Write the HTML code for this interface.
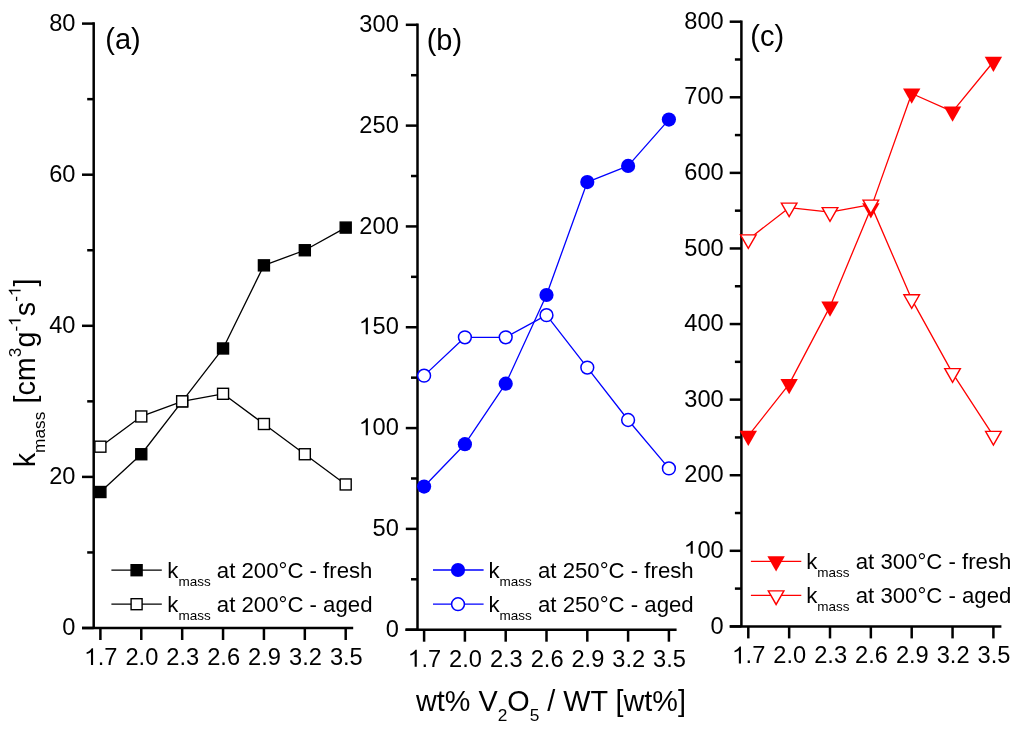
<!DOCTYPE html>
<html><head><meta charset="utf-8"><style>
html,body{margin:0;padding:0;background:#fff;}
svg{display:block;will-change:transform;}
.h1{fill-opacity:0;}
text{font-family:"Liberation Sans", sans-serif;fill:#000;}
</style></head><body>
<svg width="1024" height="732" viewBox="0 0 1024 732">
<rect width="1024" height="732" fill="#fff"></rect>
<line x1="93.7" y1="22.35" x2="93.7" y2="628.0" stroke="#000" stroke-width="2.5"></line>
<line x1="82.0" y1="628.0" x2="353.2" y2="628.0" stroke="#000" stroke-width="2.5"></line>
<line x1="82.00" y1="628.00" x2="93.7" y2="628.00" stroke="#000" stroke-width="2.5"></line>
<text transform="translate(75.50,635.10) scale(0.965,1)" text-anchor="end" font-size="24.5">0</text>
<line x1="87.20" y1="552.45" x2="93.7" y2="552.45" stroke="#000" stroke-width="2.5"></line>
<line x1="82.00" y1="476.90" x2="93.7" y2="476.90" stroke="#000" stroke-width="2.5"></line>
<text transform="translate(75.50,484.00) scale(0.965,1)" text-anchor="end" font-size="24.5">20</text>
<line x1="87.20" y1="401.35" x2="93.7" y2="401.35" stroke="#000" stroke-width="2.5"></line>
<line x1="82.00" y1="325.80" x2="93.7" y2="325.80" stroke="#000" stroke-width="2.5"></line>
<text transform="translate(75.50,332.90) scale(0.965,1)" text-anchor="end" font-size="24.5">40</text>
<line x1="87.20" y1="250.25" x2="93.7" y2="250.25" stroke="#000" stroke-width="2.5"></line>
<line x1="82.00" y1="174.70" x2="93.7" y2="174.70" stroke="#000" stroke-width="2.5"></line>
<text transform="translate(75.50,181.80) scale(0.965,1)" text-anchor="end" font-size="24.5">60</text>
<line x1="87.20" y1="99.15" x2="93.7" y2="99.15" stroke="#000" stroke-width="2.5"></line>
<line x1="82.00" y1="23.60" x2="93.7" y2="23.60" stroke="#000" stroke-width="2.5"></line>
<text transform="translate(75.50,30.70) scale(0.965,1)" text-anchor="end" font-size="24.5">80</text>
<line x1="100.40" y1="628.0" x2="100.40" y2="640.00" stroke="#000" stroke-width="2.5"></line>
<text transform="translate(101.00,665.00) scale(0.965,1)" text-anchor="middle" font-size="24.5"><tspan class="h1">1</tspan>.7</text><path transform="translate(101.00,665.00) scale(0.965,1) translate(-17.03,0.00) scale(24.5,-24.5)" d="M0.360,0 L0.270,0 L0.270,0.535 C0.225,0.497 0.155,0.468 0.085,0.455 L0.085,0.517 C0.17,0.55 0.26,0.61 0.305,0.687 L0.360,0.687 Z"></path>
<line x1="141.28" y1="628.0" x2="141.28" y2="640.00" stroke="#000" stroke-width="2.5"></line>
<text transform="translate(141.88,665.00) scale(0.965,1)" text-anchor="middle" font-size="24.5">2.0</text>
<line x1="182.17" y1="628.0" x2="182.17" y2="640.00" stroke="#000" stroke-width="2.5"></line>
<text transform="translate(182.77,665.00) scale(0.965,1)" text-anchor="middle" font-size="24.5">2.3</text>
<line x1="223.05" y1="628.0" x2="223.05" y2="640.00" stroke="#000" stroke-width="2.5"></line>
<text transform="translate(223.65,665.00) scale(0.965,1)" text-anchor="middle" font-size="24.5">2.6</text>
<line x1="263.93" y1="628.0" x2="263.93" y2="640.00" stroke="#000" stroke-width="2.5"></line>
<text transform="translate(264.53,665.00) scale(0.965,1)" text-anchor="middle" font-size="24.5">2.9</text>
<line x1="304.82" y1="628.0" x2="304.82" y2="640.00" stroke="#000" stroke-width="2.5"></line>
<text transform="translate(305.42,665.00) scale(0.965,1)" text-anchor="middle" font-size="24.5">3.2</text>
<line x1="345.70" y1="628.0" x2="345.70" y2="640.00" stroke="#000" stroke-width="2.5"></line>
<text transform="translate(346.30,665.00) scale(0.965,1)" text-anchor="middle" font-size="24.5">3.5</text>
<polyline points="100.40,492.01 141.28,454.24 182.17,401.35 223.05,348.47 263.93,265.36 304.82,250.25 345.70,227.59" fill="none" stroke="#000000" stroke-width="1.3" stroke-linejoin="round"></polyline>
<polyline points="100.40,446.68 141.28,416.46 182.17,401.35 223.05,393.80 263.93,424.01 304.82,454.24 345.70,484.46" fill="none" stroke="#000000" stroke-width="1.3" stroke-linejoin="round"></polyline>
<rect x="94.90" y="486.51" width="11.0" height="11.0" fill="#000000" stroke="#000000" stroke-width="1.4"></rect>
<rect x="135.78" y="448.74" width="11.0" height="11.0" fill="#000000" stroke="#000000" stroke-width="1.4"></rect>
<rect x="176.67" y="395.85" width="11.0" height="11.0" fill="#000000" stroke="#000000" stroke-width="1.4"></rect>
<rect x="217.55" y="342.97" width="11.0" height="11.0" fill="#000000" stroke="#000000" stroke-width="1.4"></rect>
<rect x="258.43" y="259.86" width="11.0" height="11.0" fill="#000000" stroke="#000000" stroke-width="1.4"></rect>
<rect x="299.32" y="244.75" width="11.0" height="11.0" fill="#000000" stroke="#000000" stroke-width="1.4"></rect>
<rect x="340.20" y="222.09" width="11.0" height="11.0" fill="#000000" stroke="#000000" stroke-width="1.4"></rect>
<rect x="94.90" y="441.18" width="11.0" height="11.0" fill="#ffffff" stroke="#000000" stroke-width="1.4"></rect>
<rect x="135.78" y="410.96" width="11.0" height="11.0" fill="#ffffff" stroke="#000000" stroke-width="1.4"></rect>
<rect x="176.67" y="395.85" width="11.0" height="11.0" fill="#ffffff" stroke="#000000" stroke-width="1.4"></rect>
<rect x="217.55" y="388.30" width="11.0" height="11.0" fill="#ffffff" stroke="#000000" stroke-width="1.4"></rect>
<rect x="258.43" y="418.51" width="11.0" height="11.0" fill="#ffffff" stroke="#000000" stroke-width="1.4"></rect>
<rect x="299.32" y="448.74" width="11.0" height="11.0" fill="#ffffff" stroke="#000000" stroke-width="1.4"></rect>
<rect x="340.20" y="478.96" width="11.0" height="11.0" fill="#ffffff" stroke="#000000" stroke-width="1.4"></rect>
<text x="105.30" y="48.65" font-size="29">(a)</text>
<line x1="417.5" y1="23.55" x2="417.5" y2="629.7" stroke="#000" stroke-width="2.5"></line>
<line x1="405.3" y1="629.7" x2="676.6" y2="629.7" stroke="#000" stroke-width="2.5"></line>
<line x1="405.80" y1="629.70" x2="417.5" y2="629.70" stroke="#000" stroke-width="2.5"></line>
<text transform="translate(398.80,636.80) scale(0.965,1)" text-anchor="end" font-size="24.5">0</text>
<line x1="411.00" y1="579.29" x2="417.5" y2="579.29" stroke="#000" stroke-width="2.5"></line>
<line x1="405.80" y1="528.88" x2="417.5" y2="528.88" stroke="#000" stroke-width="2.5"></line>
<text transform="translate(398.80,535.98) scale(0.965,1)" text-anchor="end" font-size="24.5">50</text>
<line x1="411.00" y1="478.48" x2="417.5" y2="478.48" stroke="#000" stroke-width="2.5"></line>
<line x1="405.80" y1="428.07" x2="417.5" y2="428.07" stroke="#000" stroke-width="2.5"></line>
<text transform="translate(398.80,435.17) scale(0.965,1)" text-anchor="end" font-size="24.5"><tspan class="h1">1</tspan>00</text><path transform="translate(398.80,435.17) scale(0.965,1) translate(-40.87,0.00) scale(24.5,-24.5)" d="M0.360,0 L0.270,0 L0.270,0.535 C0.225,0.497 0.155,0.468 0.085,0.455 L0.085,0.517 C0.17,0.55 0.26,0.61 0.305,0.687 L0.360,0.687 Z"></path>
<line x1="411.00" y1="377.66" x2="417.5" y2="377.66" stroke="#000" stroke-width="2.5"></line>
<line x1="405.80" y1="327.25" x2="417.5" y2="327.25" stroke="#000" stroke-width="2.5"></line>
<text transform="translate(398.80,334.35) scale(0.965,1)" text-anchor="end" font-size="24.5"><tspan class="h1">1</tspan>50</text><path transform="translate(398.80,334.35) scale(0.965,1) translate(-40.87,0.00) scale(24.5,-24.5)" d="M0.360,0 L0.270,0 L0.270,0.535 C0.225,0.497 0.155,0.468 0.085,0.455 L0.085,0.517 C0.17,0.55 0.26,0.61 0.305,0.687 L0.360,0.687 Z"></path>
<line x1="411.00" y1="276.84" x2="417.5" y2="276.84" stroke="#000" stroke-width="2.5"></line>
<line x1="405.80" y1="226.43" x2="417.5" y2="226.43" stroke="#000" stroke-width="2.5"></line>
<text transform="translate(398.80,233.53) scale(0.965,1)" text-anchor="end" font-size="24.5">200</text>
<line x1="411.00" y1="176.02" x2="417.5" y2="176.02" stroke="#000" stroke-width="2.5"></line>
<line x1="405.80" y1="125.62" x2="417.5" y2="125.62" stroke="#000" stroke-width="2.5"></line>
<text transform="translate(398.80,132.72) scale(0.965,1)" text-anchor="end" font-size="24.5">250</text>
<line x1="411.00" y1="75.21" x2="417.5" y2="75.21" stroke="#000" stroke-width="2.5"></line>
<line x1="405.80" y1="24.80" x2="417.5" y2="24.80" stroke="#000" stroke-width="2.5"></line>
<text transform="translate(398.80,31.90) scale(0.965,1)" text-anchor="end" font-size="24.5">300</text>
<line x1="424.10" y1="629.7" x2="424.10" y2="641.70" stroke="#000" stroke-width="2.5"></line>
<text transform="translate(424.70,666.70) scale(0.965,1)" text-anchor="middle" font-size="24.5"><tspan class="h1">1</tspan>.7</text><path transform="translate(424.70,666.70) scale(0.965,1) translate(-17.03,0.00) scale(24.5,-24.5)" d="M0.360,0 L0.270,0 L0.270,0.535 C0.225,0.497 0.155,0.468 0.085,0.455 L0.085,0.517 C0.17,0.55 0.26,0.61 0.305,0.687 L0.360,0.687 Z"></path>
<line x1="464.90" y1="629.7" x2="464.90" y2="641.70" stroke="#000" stroke-width="2.5"></line>
<text transform="translate(465.50,666.70) scale(0.965,1)" text-anchor="middle" font-size="24.5">2.0</text>
<line x1="505.70" y1="629.7" x2="505.70" y2="641.70" stroke="#000" stroke-width="2.5"></line>
<text transform="translate(506.30,666.70) scale(0.965,1)" text-anchor="middle" font-size="24.5">2.3</text>
<line x1="546.50" y1="629.7" x2="546.50" y2="641.70" stroke="#000" stroke-width="2.5"></line>
<text transform="translate(547.10,666.70) scale(0.965,1)" text-anchor="middle" font-size="24.5">2.6</text>
<line x1="587.30" y1="629.7" x2="587.30" y2="641.70" stroke="#000" stroke-width="2.5"></line>
<text transform="translate(587.90,666.70) scale(0.965,1)" text-anchor="middle" font-size="24.5">2.9</text>
<line x1="628.10" y1="629.7" x2="628.10" y2="641.70" stroke="#000" stroke-width="2.5"></line>
<text transform="translate(628.70,666.70) scale(0.965,1)" text-anchor="middle" font-size="24.5">3.2</text>
<line x1="668.90" y1="629.7" x2="668.90" y2="641.70" stroke="#000" stroke-width="2.5"></line>
<text transform="translate(669.50,666.70) scale(0.965,1)" text-anchor="middle" font-size="24.5">3.5</text>
<polyline points="424.10,486.54 464.90,444.20 505.70,383.71 546.50,294.99 587.30,182.07 628.10,165.94 668.90,119.57" fill="none" stroke="#0000ff" stroke-width="1.3" stroke-linejoin="round"></polyline>
<polyline points="424.10,375.64 464.90,337.33 505.70,337.33 546.50,315.15 587.30,367.58 628.10,420.00 668.90,468.39" fill="none" stroke="#0000ff" stroke-width="1.3" stroke-linejoin="round"></polyline>
<circle cx="424.10" cy="486.54" r="7.1" fill="#0000ff"></circle>
<circle cx="464.90" cy="444.20" r="7.1" fill="#0000ff"></circle>
<circle cx="505.70" cy="383.71" r="7.1" fill="#0000ff"></circle>
<circle cx="546.50" cy="294.99" r="7.1" fill="#0000ff"></circle>
<circle cx="587.30" cy="182.07" r="7.1" fill="#0000ff"></circle>
<circle cx="628.10" cy="165.94" r="7.1" fill="#0000ff"></circle>
<circle cx="668.90" cy="119.57" r="7.1" fill="#0000ff"></circle>
<circle cx="424.10" cy="375.64" r="6.4" fill="#ffffff" stroke="#0000ff" stroke-width="1.5"></circle>
<circle cx="464.90" cy="337.33" r="6.4" fill="#ffffff" stroke="#0000ff" stroke-width="1.5"></circle>
<circle cx="505.70" cy="337.33" r="6.4" fill="#ffffff" stroke="#0000ff" stroke-width="1.5"></circle>
<circle cx="546.50" cy="315.15" r="6.4" fill="#ffffff" stroke="#0000ff" stroke-width="1.5"></circle>
<circle cx="587.30" cy="367.58" r="6.4" fill="#ffffff" stroke="#0000ff" stroke-width="1.5"></circle>
<circle cx="628.10" cy="420.00" r="6.4" fill="#ffffff" stroke="#0000ff" stroke-width="1.5"></circle>
<circle cx="668.90" cy="468.39" r="6.4" fill="#ffffff" stroke="#0000ff" stroke-width="1.5"></circle>
<text x="426.70" y="50.00" font-size="29">(b)</text>
<line x1="741.4" y1="20.45" x2="741.4" y2="626.4" stroke="#000" stroke-width="2.5"></line>
<line x1="729.8" y1="626.4" x2="1001.4" y2="626.4" stroke="#000" stroke-width="2.5"></line>
<line x1="729.70" y1="626.40" x2="741.4" y2="626.40" stroke="#000" stroke-width="2.5"></line>
<text transform="translate(723.70,633.50) scale(0.965,1)" text-anchor="end" font-size="24.5">0</text>
<line x1="734.90" y1="588.61" x2="741.4" y2="588.61" stroke="#000" stroke-width="2.5"></line>
<line x1="729.70" y1="550.81" x2="741.4" y2="550.81" stroke="#000" stroke-width="2.5"></line>
<text transform="translate(723.70,557.91) scale(0.965,1)" text-anchor="end" font-size="24.5"><tspan class="h1">1</tspan>00</text><path transform="translate(723.70,557.91) scale(0.965,1) translate(-40.87,0.00) scale(24.5,-24.5)" d="M0.360,0 L0.270,0 L0.270,0.535 C0.225,0.497 0.155,0.468 0.085,0.455 L0.085,0.517 C0.17,0.55 0.26,0.61 0.305,0.687 L0.360,0.687 Z"></path>
<line x1="734.90" y1="513.02" x2="741.4" y2="513.02" stroke="#000" stroke-width="2.5"></line>
<line x1="729.70" y1="475.23" x2="741.4" y2="475.23" stroke="#000" stroke-width="2.5"></line>
<text transform="translate(723.70,482.33) scale(0.965,1)" text-anchor="end" font-size="24.5">200</text>
<line x1="734.90" y1="437.43" x2="741.4" y2="437.43" stroke="#000" stroke-width="2.5"></line>
<line x1="729.70" y1="399.64" x2="741.4" y2="399.64" stroke="#000" stroke-width="2.5"></line>
<text transform="translate(723.70,406.74) scale(0.965,1)" text-anchor="end" font-size="24.5">300</text>
<line x1="734.90" y1="361.84" x2="741.4" y2="361.84" stroke="#000" stroke-width="2.5"></line>
<line x1="729.70" y1="324.05" x2="741.4" y2="324.05" stroke="#000" stroke-width="2.5"></line>
<text transform="translate(723.70,331.15) scale(0.965,1)" text-anchor="end" font-size="24.5">400</text>
<line x1="734.90" y1="286.26" x2="741.4" y2="286.26" stroke="#000" stroke-width="2.5"></line>
<line x1="729.70" y1="248.46" x2="741.4" y2="248.46" stroke="#000" stroke-width="2.5"></line>
<text transform="translate(723.70,255.56) scale(0.965,1)" text-anchor="end" font-size="24.5">500</text>
<line x1="734.90" y1="210.67" x2="741.4" y2="210.67" stroke="#000" stroke-width="2.5"></line>
<line x1="729.70" y1="172.88" x2="741.4" y2="172.88" stroke="#000" stroke-width="2.5"></line>
<text transform="translate(723.70,179.97) scale(0.965,1)" text-anchor="end" font-size="24.5">600</text>
<line x1="734.90" y1="135.08" x2="741.4" y2="135.08" stroke="#000" stroke-width="2.5"></line>
<line x1="729.70" y1="97.29" x2="741.4" y2="97.29" stroke="#000" stroke-width="2.5"></line>
<text transform="translate(723.70,104.39) scale(0.965,1)" text-anchor="end" font-size="24.5">700</text>
<line x1="734.90" y1="59.49" x2="741.4" y2="59.49" stroke="#000" stroke-width="2.5"></line>
<line x1="729.70" y1="21.70" x2="741.4" y2="21.70" stroke="#000" stroke-width="2.5"></line>
<text transform="translate(723.70,28.80) scale(0.965,1)" text-anchor="end" font-size="24.5">800</text>
<line x1="748.30" y1="626.4" x2="748.30" y2="638.40" stroke="#000" stroke-width="2.5"></line>
<text transform="translate(748.90,663.40) scale(0.965,1)" text-anchor="middle" font-size="24.5"><tspan class="h1">1</tspan>.7</text><path transform="translate(748.90,663.40) scale(0.965,1) translate(-17.03,0.00) scale(24.5,-24.5)" d="M0.360,0 L0.270,0 L0.270,0.535 C0.225,0.497 0.155,0.468 0.085,0.455 L0.085,0.517 C0.17,0.55 0.26,0.61 0.305,0.687 L0.360,0.687 Z"></path>
<line x1="789.15" y1="626.4" x2="789.15" y2="638.40" stroke="#000" stroke-width="2.5"></line>
<text transform="translate(789.75,663.40) scale(0.965,1)" text-anchor="middle" font-size="24.5">2.0</text>
<line x1="830.00" y1="626.4" x2="830.00" y2="638.40" stroke="#000" stroke-width="2.5"></line>
<text transform="translate(830.60,663.40) scale(0.965,1)" text-anchor="middle" font-size="24.5">2.3</text>
<line x1="870.85" y1="626.4" x2="870.85" y2="638.40" stroke="#000" stroke-width="2.5"></line>
<text transform="translate(871.45,663.40) scale(0.965,1)" text-anchor="middle" font-size="24.5">2.6</text>
<line x1="911.70" y1="626.4" x2="911.70" y2="638.40" stroke="#000" stroke-width="2.5"></line>
<text transform="translate(912.30,663.40) scale(0.965,1)" text-anchor="middle" font-size="24.5">2.9</text>
<line x1="952.55" y1="626.4" x2="952.55" y2="638.40" stroke="#000" stroke-width="2.5"></line>
<text transform="translate(953.15,663.40) scale(0.965,1)" text-anchor="middle" font-size="24.5">3.2</text>
<line x1="993.40" y1="626.4" x2="993.40" y2="638.40" stroke="#000" stroke-width="2.5"></line>
<text transform="translate(994.00,663.40) scale(0.965,1)" text-anchor="middle" font-size="24.5">3.5</text>
<polyline points="748.30,435.92 789.15,384.14 830.00,306.66 870.85,208.40 911.70,93.51 952.55,111.65 993.40,61.76" fill="none" stroke="#ff0000" stroke-width="1.3" stroke-linejoin="round"></polyline>
<polyline points="748.30,239.39 789.15,207.65 830.00,212.18 870.85,204.62 911.70,299.33 952.55,373.18 993.40,435.92" fill="none" stroke="#ff0000" stroke-width="1.3" stroke-linejoin="round"></polyline>
<polygon points="739.60,430.82 757.00,430.82 748.30,446.12" fill="#ff0000"></polygon>
<polygon points="780.45,379.04 797.85,379.04 789.15,394.34" fill="#ff0000"></polygon>
<polygon points="821.30,301.56 838.70,301.56 830.00,316.86" fill="#ff0000"></polygon>
<polygon points="862.15,203.30 879.55,203.30 870.85,218.60" fill="#ff0000"></polygon>
<polygon points="903.00,88.41 920.40,88.41 911.70,103.71" fill="#ff0000"></polygon>
<polygon points="943.85,106.55 961.25,106.55 952.55,121.85" fill="#ff0000"></polygon>
<polygon points="984.70,56.66 1002.10,56.66 993.40,71.96" fill="#ff0000"></polygon>
<polygon points="740.50,234.86 756.10,234.86 748.30,248.46" fill="#ffffff" stroke="#ff0000" stroke-width="1.4" stroke-linejoin="miter"></polygon>
<polygon points="781.35,203.11 796.95,203.11 789.15,216.71" fill="#ffffff" stroke="#ff0000" stroke-width="1.4" stroke-linejoin="miter"></polygon>
<polygon points="822.20,207.65 837.80,207.65 830.00,221.25" fill="#ffffff" stroke="#ff0000" stroke-width="1.4" stroke-linejoin="miter"></polygon>
<polygon points="863.05,200.09 878.65,200.09 870.85,213.69" fill="#ffffff" stroke="#ff0000" stroke-width="1.4" stroke-linejoin="miter"></polygon>
<polygon points="903.90,294.80 919.50,294.80 911.70,308.40" fill="#ffffff" stroke="#ff0000" stroke-width="1.4" stroke-linejoin="miter"></polygon>
<polygon points="944.75,368.65 960.35,368.65 952.55,382.25" fill="#ffffff" stroke="#ff0000" stroke-width="1.4" stroke-linejoin="miter"></polygon>
<polygon points="985.60,431.39 1001.20,431.39 993.40,444.99" fill="#ffffff" stroke="#ff0000" stroke-width="1.4" stroke-linejoin="miter"></polygon>
<text x="750.30" y="45.80" font-size="29">(c)</text>
<rect x="107.40" y="553.90" width="266.00" height="64.30" fill="#fff"></rect>
<line x1="111.4" y1="570.2" x2="161.8" y2="570.2" stroke="#000000" stroke-width="1.3"></line>
<rect x="131.10" y="564.70" width="11.0" height="11.0" fill="#000000" stroke="#000000" stroke-width="1.4"></rect>
<text x="167.31" y="577.80" font-size="22.2">k<tspan font-size="13.5" dy="8.3">mass</tspan><tspan dy="-8.3"> at 200°C - fresh</tspan></text>
<line x1="111.4" y1="604.2" x2="161.8" y2="604.2" stroke="#000000" stroke-width="1.3"></line>
<rect x="131.10" y="598.70" width="11.0" height="11.0" fill="#ffffff" stroke="#000000" stroke-width="1.4"></rect>
<text x="167.31" y="611.80" font-size="22.2">k<tspan font-size="13.5" dy="8.3">mass</tspan><tspan dy="-8.3"> at 200°C - aged</tspan></text>
<rect x="429.00" y="553.70" width="266.00" height="64.50" fill="#fff"></rect>
<line x1="433.0" y1="570.0" x2="483.6" y2="570.0" stroke="#0000ff" stroke-width="1.3"></line>
<circle cx="458.00" cy="570.00" r="7.1" fill="#0000ff"></circle>
<text x="488.51" y="577.60" font-size="22.2">k<tspan font-size="13.5" dy="8.3">mass</tspan><tspan dy="-8.3"> at 250°C - fresh</tspan></text>
<line x1="433.0" y1="604.2" x2="483.6" y2="604.2" stroke="#0000ff" stroke-width="1.3"></line>
<circle cx="458.00" cy="604.20" r="6.4" fill="#ffffff" stroke="#0000ff" stroke-width="1.5"></circle>
<text x="488.51" y="611.80" font-size="22.2">k<tspan font-size="13.5" dy="8.3">mass</tspan><tspan dy="-8.3"> at 250°C - aged</tspan></text>
<rect x="746.90" y="545.10" width="266.00" height="64.30" fill="#fff"></rect>
<line x1="750.9" y1="561.4" x2="801.3" y2="561.4" stroke="#ff0000" stroke-width="1.3"></line>
<polygon points="767.40,556.30 784.80,556.30 776.10,571.60" fill="#ff0000"></polygon>
<text x="806.21" y="569.00" font-size="22.2">k<tspan font-size="13.5" dy="8.3">mass</tspan><tspan dy="-8.3"> at 300°C - fresh</tspan></text>
<line x1="750.9" y1="595.4" x2="801.3" y2="595.4" stroke="#ff0000" stroke-width="1.3"></line>
<polygon points="768.30,590.87 783.90,590.87 776.10,604.47" fill="#ffffff" stroke="#ff0000" stroke-width="1.4" stroke-linejoin="miter"></polygon>
<text x="806.21" y="603.00" font-size="22.2">k<tspan font-size="13.5" dy="8.3">mass</tspan><tspan dy="-8.3"> at 300°C - aged</tspan></text>
<text transform="translate(34.5,467.3) rotate(-90)" font-size="28.8">k<tspan font-size="17.3" dy="10.4">mass</tspan><tspan dy="-10.4"> [cm</tspan><tspan font-size="17.3" dy="-13.9">3</tspan><tspan dy="13.9">g</tspan><tspan font-size="17.3" dy="-13.9">-<tspan class="h1">1</tspan></tspan><tspan dy="13.9">s</tspan><tspan font-size="17.3" dy="-13.9">-<tspan class="h1">1</tspan></tspan><tspan dy="13.9">]</tspan></text><path transform="translate(34.5,467.3) rotate(-90) translate(171.30,-13.90) scale(17.3,-17.3)" d="M0.360,0 L0.270,0 L0.270,0.535 C0.225,0.497 0.155,0.468 0.085,0.455 L0.085,0.517 C0.17,0.55 0.26,0.61 0.305,0.687 L0.360,0.687 Z"></path><path transform="translate(34.5,467.3) rotate(-90) translate(141.50,-13.90) scale(17.3,-17.3)" d="M0.360,0 L0.270,0 L0.270,0.535 C0.225,0.497 0.155,0.468 0.085,0.455 L0.085,0.517 C0.17,0.55 0.26,0.61 0.305,0.687 L0.360,0.687 Z"></path>
<text x="416" y="711" font-size="28.8">wt% V<tspan font-size="17.3" dy="9.5">2</tspan><tspan dy="-9.5">O</tspan><tspan font-size="17.3" dy="9.5">5</tspan><tspan dy="-9.5"> / WT [wt%]</tspan></text>
</svg>
</body></html>
